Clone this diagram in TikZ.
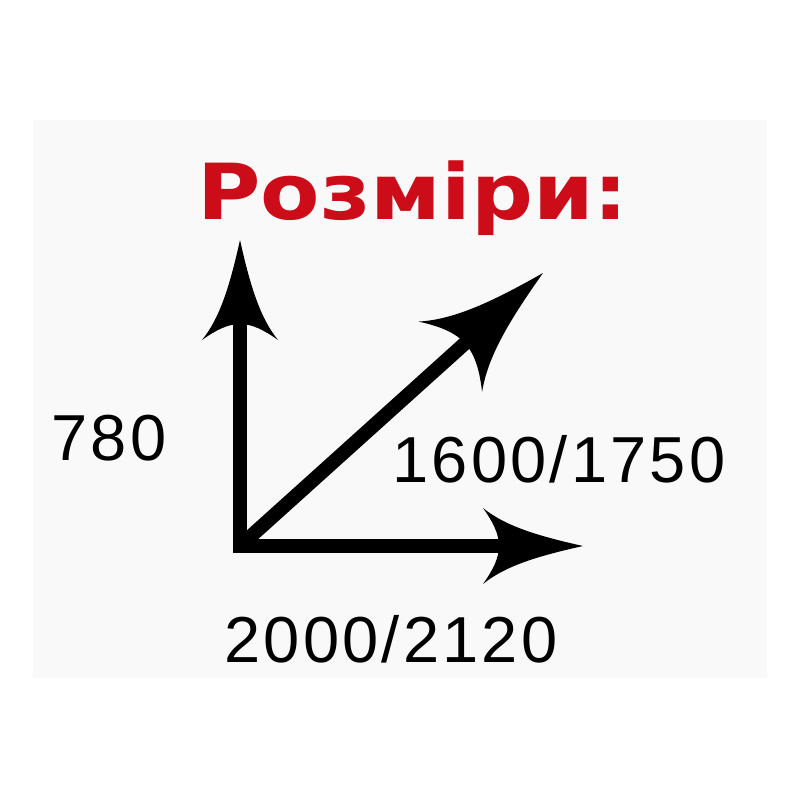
\documentclass[tikz,border=0pt]{standalone}
\usepackage{fontspec}
\setmainfont{Liberation Sans}
\newfontfamily\titlefont{DejaVu Sans}
\usepackage{tikz}
\usepackage{xcolor}

\definecolor{titlered}{RGB}{204,12,24}
\definecolor{panelgray}{RGB}{249,249,249}

\tikzset{
    shaft/.style={line width=8pt, line join=miter},
    dimlabel/.style={font=\fontsize{37}{40}\selectfont\addfontfeature{LetterSpace=5}, inner sep=0pt, anchor=base west},
    barb/.pic={
        \fill (0,0) .. controls (-45,10) and (-78,20) .. (-100,38)
            .. controls (-90,24) and (-84,12) .. (-84,0)
            .. controls (-84,-12) and (-90,-24) .. (-100,-38)
            .. controls (-78,-20) and (-45,-10) .. (0,0) -- cycle;
    }
}

\begin{document}
\begin{tikzpicture}[x=0.02cm, y=-0.02cm]
        \useasboundingbox (0,0) rectangle (800,800);
        % Note the faint panel behind everything
        \fill[panelgray] (33,120) rectangle (767,678);

        % Title
        \node[font=\titlefont\bfseries\fontsize{44}{48}\selectfont, text=titlered, anchor=base west, inner sep=0pt, xscale=1.12] (title) at (197,220) {Розміри:};

        % Corner and arrow tips
        \coordinate (o) at (240,546);
        \coordinate (up) at (240,240);
        \coordinate (diag) at (543,273);
        \coordinate (right) at (583,546);

        % Shafts
        \draw[shaft, shorten <=45pt, shorten >=45pt] (up) -- (o) -- (right);
        \draw[shaft, shorten >=58pt] (o) -- (diag);

        % Heads
        \pic[rotate=90] at (up) {barb};
        \pic at (right) {barb};
        \pic[rotate=42.1, scale=1.25] at (diag) {barb};

        % Labels
        \node[dimlabel] (height) at (51,460) {780};
        \node[dimlabel] (depth) at (392,482) {1600/1750};
        \node[dimlabel] (width) at (224,662) {2000/2120};
    \end{tikzpicture}
\end{document}
